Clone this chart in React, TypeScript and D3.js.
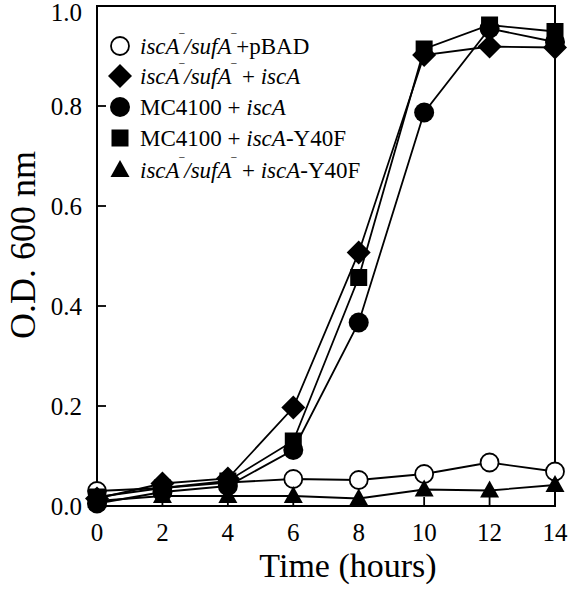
import React from "react";
import * as d3 from "d3";

const times = [0, 2, 4, 6, 8, 10, 12, 14];
const openCircle = [0.03, 0.036, 0.047, 0.054, 0.052, 0.064, 0.087, 0.069];
const diamond = [0.015, 0.045, 0.055, 0.197, 0.507, 0.902, 0.919, 0.917];
const filledCircle = [0.005, 0.028, 0.04, 0.112, 0.367, 0.787, 0.955, 0.928];
const square = [0.018, 0.036, 0.05, 0.13, 0.457, 0.914, 0.962, 0.949];
const triangle = [0.01, 0.02, 0.02, 0.02, 0.015, 0.033, 0.031, 0.042];
const xTicks = [0, 2, 4, 6, 8, 10, 12, 14];
const yTicks = [0, 0.2, 0.4, 0.6, 0.8, 1.0];

type Shape = "openCircle" | "diamond" | "circle" | "square" | "triangle";
const series: { key: string; shape: Shape; values: number[] }[] = [
  { key: "a", shape: "openCircle", values: openCircle },
  { key: "b", shape: "triangle", values: triangle },
  { key: "c", shape: "circle", values: filledCircle },
  { key: "d", shape: "square", values: square },
  { key: "e", shape: "diamond", values: diamond },
];

const FONT = "'Liberation Serif', 'Times New Roman', serif";

function Marker({ shape, cx, cy }: { shape: Shape; cx: number; cy: number }) {
  switch (shape) {
    case "openCircle":
      return <circle cx={cx} cy={cy} r={9} fill="#fff" stroke="#000" strokeWidth={1.8} />;
    case "circle":
      return <circle cx={cx} cy={cy} r={10} fill="#000" />;
    case "square":
      return <rect x={cx - 8.5} y={cy - 8.5} width={17} height={17} fill="#000" />;
    case "diamond":
      return (
        <path d={`M${cx},${cy - 12}L${cx + 12},${cy}L${cx},${cy + 12}L${cx - 12},${cy}Z`} fill="#000" />
      );
    case "triangle":
      return (
        <path d={`M${cx},${cy - 10}L${cx + 9.5},${cy + 7}L${cx - 9.5},${cy + 7}Z`} fill="#000" />
      );
  }
}

function Sup() {
  return (
    <tspan dy={-9} fontSize={14} fontStyle="normal">
      ‾
    </tspan>
  );
}

export default function App() {
  const x = d3.scaleLinear().domain([0, 14]).range([97, 555]);
  const y = d3.scaleLinear().domain([0, 1]).range([506, 6]);
  const line = d3
    .line<number>()
    .x((_, i) => x(times[i]))
    .y((d) => y(d));

  const legendY = [46, 76, 107, 138, 170];
  const legendShapes: Shape[] = ["openCircle", "diamond", "circle", "square", "triangle"];

  return (
    <svg
      width={582}
      height={600}
      style={{ position: "absolute", left: 0, top: 0, background: "#fff" }}
      fontFamily={FONT}
    >
      <rect x={0} y={0} width={582} height={600} fill="#fff" />
      {/* frame */}
      <rect x={x(0)} y={y(1)} width={x(14) - x(0)} height={y(0) - y(1)} fill="none" stroke="#000" strokeWidth={2} />
      {/* ticks */}
      {xTicks.map((t) => (
        <g key={"xt" + t}>
          <line x1={x(t)} x2={x(t)} y1={y(0)} y2={y(0) - 9} stroke="#000" strokeWidth={1.8} />
          <text x={x(t)} y={y(0) + 35} textAnchor="middle" fontSize={25}>
            {t}
          </text>
        </g>
      ))}
      {yTicks.map((t) => (
        <g key={"yt" + t}>
          <line x1={x(0)} x2={x(0) + 9} y1={y(t)} y2={y(t)} stroke="#000" strokeWidth={1.8} />
          <text x={x(0) - 15} y={Math.max(y(t) + 9, 21)} textAnchor="end" fontSize={25}>
            {t.toFixed(1)}
          </text>
        </g>
      ))}
      {/* lines */}
      {series.map((s) => (
        <path key={"l" + s.key} d={line(s.values) || ""} fill="none" stroke="#000" strokeWidth={1.8} />
      ))}
      {/* markers */}
      {series.map((s) =>
        s.values.map((v, i) => <Marker key={s.key + i} shape={s.shape} cx={x(times[i])} cy={y(v)} />)
      )}
      {/* legend */}
      {legendShapes.map((sh, i) => (
        <Marker key={"lg" + i} shape={sh} cx={120} cy={legendY[i]} />
      ))}
      <g fontSize={23}>
        <text x={140} y={legendY[0] + 8}>
          <tspan fontStyle="italic">iscA</tspan>
          <Sup />
          <tspan dy={9} fontStyle="italic">/sufA</tspan>
          <Sup />
          <tspan dy={9}>+pBAD</tspan>
        </text>
        <text x={140} y={legendY[1] + 8}>
          <tspan fontStyle="italic">iscA</tspan>
          <Sup />
          <tspan dy={9} fontStyle="italic">/sufA</tspan>
          <Sup />
          <tspan dy={9}> + </tspan>
          <tspan fontStyle="italic">iscA</tspan>
        </text>
        <text x={140} y={legendY[2] + 8}>
          <tspan>MC4100 + </tspan>
          <tspan fontStyle="italic">iscA</tspan>
        </text>
        <text x={140} y={legendY[3] + 8}>
          <tspan>MC4100 + </tspan>
          <tspan fontStyle="italic">iscA</tspan>
          <tspan>-Y40F</tspan>
        </text>
        <text x={140} y={legendY[4] + 8}>
          <tspan fontStyle="italic">iscA</tspan>
          <Sup />
          <tspan dy={9} fontStyle="italic">/sufA</tspan>
          <Sup />
          <tspan dy={9}> + </tspan>
          <tspan fontStyle="italic">iscA</tspan>
          <tspan>-Y40F</tspan>
        </text>
      </g>
      {/* axis titles */}
      <text x={348} y={577} textAnchor="middle" fontSize={34}>
        Time (hours)
      </text>
      <text transform={`translate(35,245) rotate(-90)`} textAnchor="middle" fontSize={36}>
        O.D. 600 nm
      </text>
    </svg>
  );
}
